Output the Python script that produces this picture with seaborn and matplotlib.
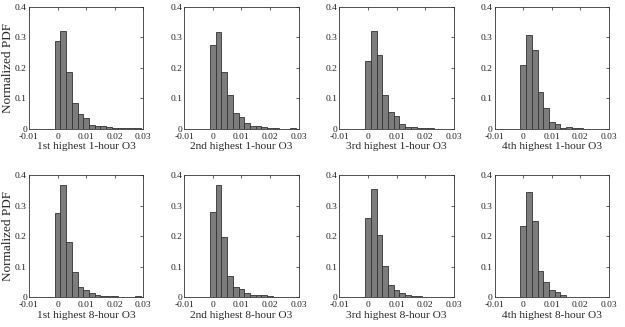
import numpy as np
import pandas as pd
import matplotlib
matplotlib.use("Agg")
import matplotlib.pyplot as plt
import seaborn as sns

# bin centres (width 0.002) and normalized PDF heights
bin_centers = [0.000, 0.002, 0.004, 0.006, 0.008, 0.010, 0.012, 0.014,
               0.016, 0.018, 0.020, 0.022, 0.024, 0.026, 0.028]

pdf_1st_1h = [0.289, 0.320, 0.185, 0.084, 0.048, 0.034, 0.013, 0.010,
              0.008, 0.006, 0.003, 0.002, 0.001, 0.002, 0.002]
pdf_2nd_1h = [0.276, 0.318, 0.187, 0.112, 0.051, 0.037, 0.018, 0.010,
              0.008, 0.004, 0.003, 0.001, 0.000, 0.000, 0.001]
pdf_3rd_1h = [0.221, 0.320, 0.241, 0.111, 0.055, 0.040, 0.014, 0.006,
              0.005, 0.001, 0.003, 0.001, 0.000, 0.000, 0.000]
pdf_4th_1h = [0.210, 0.307, 0.260, 0.121, 0.067, 0.022, 0.016, 0.002,
              0.004, 0.002, 0.003, 0.000, 0.000, 0.000, 0.000]
pdf_1st_8h = [0.277, 0.367, 0.182, 0.082, 0.034, 0.023, 0.012, 0.006,
              0.004, 0.004, 0.002, 0.001, 0.000, 0.001, 0.002]
pdf_2nd_8h = [0.280, 0.370, 0.198, 0.068, 0.032, 0.025, 0.012, 0.005,
              0.007, 0.005, 0.002, 0.001, 0.000, 0.001, 0.001]
pdf_3rd_8h = [0.260, 0.356, 0.205, 0.101, 0.040, 0.024, 0.013, 0.008,
              0.004, 0.002, 0.001, 0.001, 0.000, 0.000, 0.000]
pdf_4th_8h = [0.235, 0.346, 0.249, 0.085, 0.048, 0.023, 0.015, 0.005,
              0.000, 0.000, 0.000, 0.000, 0.000, 0.000, 0.000]

panel_titles = ["1st highest 1-hour O3", "2nd highest 1-hour O3",
                "3rd highest 1-hour O3", "4th highest 1-hour O3",
                "1st highest 8-hour O3", "2nd highest 8-hour O3",
                "3rd highest 8-hour O3", "4th highest 8-hour O3"]
panel_data = [pdf_1st_1h, pdf_2nd_1h, pdf_3rd_1h, pdf_4th_1h,
              pdf_1st_8h, pdf_2nd_8h, pdf_3rd_8h, pdf_4th_8h]

x_ticks = [-0.01, 0.0, 0.01, 0.02, 0.03]
x_tick_labels = ["-0.01", "0", "0.01", "0.02", "0.03"]
y_ticks = [0.0, 0.1, 0.2, 0.3, 0.4]
y_tick_labels = ["0", "0.1", "0.2", "0.3", "0.4"]
y_label = "Normalized PDF"

sns.set_style("white")
plt.rcParams["font.family"] = ["Liberation Serif", "DejaVu Serif"]

fig, axes = plt.subplots(2, 4, figsize=(6.25, 3.27), dpi=100)
fig.subplots_adjust(left=0.0464, right=0.9744, top=0.9786, bottom=0.0917,
                    wspace=0.357, hspace=0.385)

# bin edges: half a bin width either side of each centre
bin_width = 0.002
edges = [round(c - bin_width / 2, 4) for c in bin_centers] + \
        [round(bin_centers[-1] + bin_width / 2, 4)]

for i, ax in enumerate(axes.flat):
    df = pd.DataFrame({"x": bin_centers, "pdf": panel_data[i]})
    sns.histplot(data=df, x="x", weights="pdf", bins=edges, ax=ax,
                 color="#7c7c7c", edgecolor="#333333", linewidth=0.6, alpha=1)
    ax.set_xlim(-0.01, 0.03)
    ax.set_ylim(0, 0.4)
    ax.set_xticks(x_ticks)
    ax.set_xticklabels(x_tick_labels)
    ax.set_yticks(y_ticks)
    ax.set_yticklabels(y_tick_labels)
    ax.tick_params(direction="in", length=2.5, width=0.5, labelsize=6.8,
                   top=True, right=True, colors="#222222")
    ax.tick_params(axis="x", pad=3)
    ax.tick_params(axis="y", pad=1.5)
    ax.set_xlabel(panel_titles[i], fontsize=8.2, labelpad=1)
    if i % 4 == 0:
        ax.set_ylabel(y_label, fontsize=9.5, labelpad=0.5)
    else:
        ax.set_ylabel("")
    for s in ax.spines.values():
        s.set_visible(True)
        s.set_color("#333333")
        s.set_linewidth(0.6)

fig.savefig("out.png", dpi=100)
